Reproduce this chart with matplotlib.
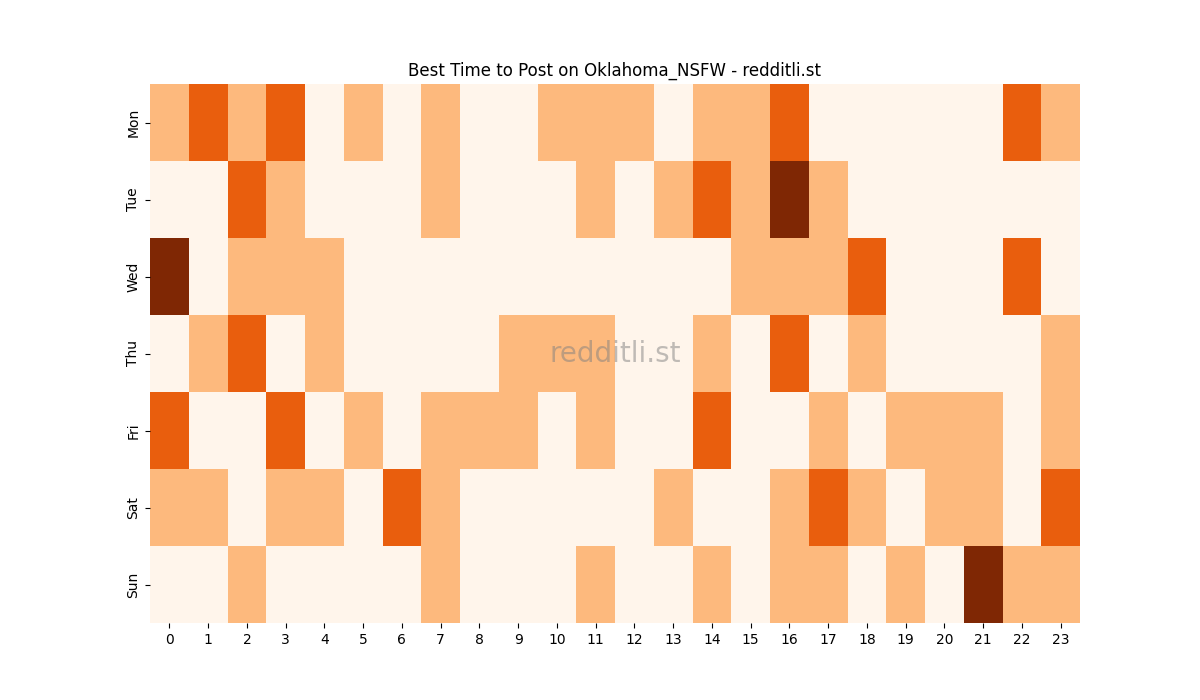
import matplotlib
matplotlib.use("Agg")
import matplotlib.pyplot as plt
import seaborn as sns
import numpy as np
import pandas as pd

days = ["Mon", "Tue", "Wed", "Thu", "Fri", "Sat", "Sun"]
hours = list(range(24))

# posting score per hour (0 = low, 3 = best)
mon = [1, 2, 1, 2, 0, 1, 0, 1, 0, 0, 1, 1, 1, 0, 1, 1, 2, 0, 0, 0, 0, 0, 2, 1]
tue = [0, 0, 2, 1, 0, 0, 0, 1, 0, 0, 0, 1, 0, 1, 2, 1, 3, 1, 0, 0, 0, 0, 0, 0]
wed = [3, 0, 1, 1, 1, 0, 0, 0, 0, 0, 0, 0, 0, 0, 0, 1, 1, 1, 2, 0, 0, 0, 2, 0]
thu = [0, 1, 2, 0, 1, 0, 0, 0, 0, 1, 1, 1, 0, 0, 1, 0, 2, 0, 1, 0, 0, 0, 0, 1]
fri = [2, 0, 0, 2, 0, 1, 0, 1, 1, 1, 0, 1, 0, 0, 2, 0, 0, 1, 0, 1, 1, 1, 0, 1]
sat = [1, 1, 0, 1, 1, 0, 2, 1, 0, 0, 0, 0, 0, 1, 0, 0, 1, 2, 1, 0, 1, 1, 0, 2]
sun = [0, 0, 1, 0, 0, 0, 0, 1, 0, 0, 0, 1, 0, 0, 1, 0, 1, 1, 0, 1, 0, 3, 1, 1]

df = pd.DataFrame([mon, tue, wed, thu, fri, sat, sun], index=days, columns=hours)

fig, ax = plt.subplots(figsize=(12, 7), dpi=100)
sns.heatmap(df, cmap="Oranges", vmin=0, vmax=3, cbar=False, ax=ax)
ax.set_title("Best Time to Post on Oklahoma_NSFW - redditli.st", fontsize=12)
ax.set_xlabel("")
ax.set_ylabel("")
ax.tick_params(axis="y", labelrotation=90)
ax.text(0.5, 0.5, "redditli.st", transform=ax.transAxes, ha="center", va="center",
        fontsize=20, color="gray", alpha=0.5)

fig.savefig("out.png", dpi=100)
